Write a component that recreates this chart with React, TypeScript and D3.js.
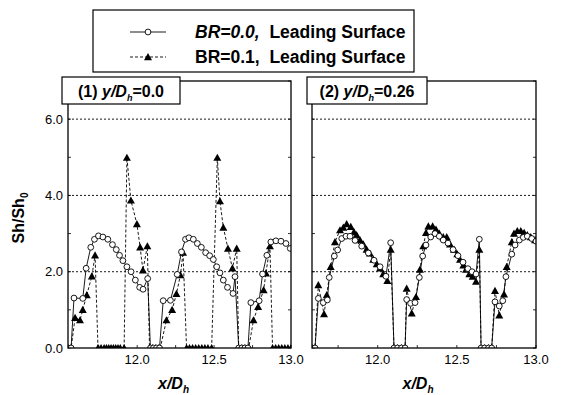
import React from "react";
import * as d3 from "d3";

// ---------- data ----------
const yTicks = [0, 2, 4, 6];
const yTickLabels = ["0.0", "2.0", "4.0", "6.0"];
const xTicks = [12.0, 12.5, 13.0];
const xTickLabels = ["12.0", "12.5", "13.0"];
const xMinorTicks = [11.75, 12.25, 12.75];

const seriesNames = ["BR=0.0,", "BR=0.1,"];
const legendSuffix = "Leading Surface";
const panelTitles = [
  { num: "(1) ", val: "=0.0" },
  { num: "(2) ", val: "=0.26" },
];

// Panel 1 (y/Dh = 0.0)
const p1BR00: [number, number][] = [
  [11.55, 0], [11.57, 0], [11.589, 1.31], [11.646, 1.3], [11.668, 2.09], [11.698, 2.64],
  [11.722, 2.85], [11.748, 2.94], [11.777, 2.91], [11.809, 2.85], [11.839, 2.71], [11.864, 2.58],
  [11.885, 2.43], [11.907, 2.29], [11.933, 2.13], [11.96, 2.0], [11.988, 1.78], [12.016, 1.59],
  [12.038, 1.54], [12.068, 1.82], [12.086, 0], [12.105, 0], [12.125, 0], [12.145, 0],
  [12.169, 1.24], [12.216, 1.25], [12.26, 1.93], [12.288, 2.52], [12.314, 2.85], [12.336, 2.89],
  [12.365, 2.85], [12.391, 2.74], [12.417, 2.64], [12.445, 2.5], [12.471, 2.42], [12.495, 2.32],
  [12.517, 2.13], [12.538, 1.97], [12.56, 1.78], [12.587, 1.59], [12.623, 1.43], [12.636, 1.87],
  [12.66, 0], [12.68, 0], [12.7, 0], [12.72, 0], [12.739, 1.19], [12.793, 1.24], [12.815, 1.94],
  [12.843, 2.43], [12.869, 2.78], [12.902, 2.81], [12.935, 2.8], [12.967, 2.74], [12.995, 2.61],
];
const p1BR01: [number, number][] = [
  [11.55, 0], [11.57, 0], [11.596, 0.79], [11.628, 0.73], [11.646, 1.0], [11.672, 1.39],
  [11.705, 1.88], [11.726, 2.43], [11.745, 0], [11.765, 0], [11.785, 0], [11.8, 0], [11.815, 0],
  [11.83, 0], [11.845, 0], [11.86, 0], [11.875, 0], [11.89, 0], [11.915, 0], [11.933, 4.99],
  [11.959, 3.87], [11.998, 3.25], [12.019, 2.64], [12.037, 2.04], [12.066, 2.67], [12.08, 0],
  [12.1, 0], [12.12, 0], [12.14, 0], [12.15, 0], [12.19, 0.73], [12.227, 1.0], [12.255, 1.42],
  [12.281, 1.91], [12.298, 2.5], [12.321, 0], [12.34, 0], [12.36, 0], [12.38, 0], [12.4, 0],
  [12.42, 0], [12.44, 0], [12.46, 0], [12.484, 0], [12.521, 4.99], [12.538, 3.85], [12.56, 3.16],
  [12.59, 2.61], [12.619, 2.09], [12.647, 2.61], [12.66, 0], [12.68, 0], [12.7, 0], [12.725, 0],
  [12.756, 0.73], [12.786, 1.08], [12.822, 1.52], [12.837, 1.96], [12.863, 2.67], [12.88, 0],
  [12.9, 0], [12.92, 0], [12.94, 0], [12.96, 0], [12.98, 0], [13.0, 0],
];

// Panel 2 (y/Dh = 0.26)
const p2BR00: [number, number][] = [
  [11.585, 0], [11.604, 0], [11.625, 1.3], [11.656, 1.19], [11.682, 1.26], [11.694, 1.85],
  [11.726, 2.41], [11.747, 2.57], [11.773, 2.87], [11.8, 2.93], [11.825, 2.93], [11.857, 2.82],
  [11.899, 2.67], [11.941, 2.49], [11.977, 2.3], [12.015, 2.13], [12.052, 1.88], [12.082, 2.76],
  [12.103, 0], [12.125, 0], [12.15, 0], [12.173, 0], [12.183, 1.27], [12.208, 1.17], [12.236, 1.19],
  [12.263, 1.85], [12.284, 2.41], [12.305, 2.7], [12.335, 2.91], [12.362, 3.0], [12.389, 2.93],
  [12.414, 2.83], [12.444, 2.75], [12.476, 2.58], [12.507, 2.42], [12.539, 2.25], [12.57, 2.08],
  [12.596, 2.0], [12.621, 1.94], [12.642, 2.85], [12.653, 0], [12.675, 0], [12.7, 0], [12.72, 0],
  [12.741, 1.21], [12.768, 1.1], [12.79, 1.24], [12.81, 1.87], [12.847, 2.46], [12.868, 2.7],
  [12.895, 2.83], [12.92, 2.9], [12.945, 2.93], [12.973, 2.87], [13.0, 2.8],
];
const p2BR01: [number, number][] = [
  [11.585, 0], [11.604, 0], [11.625, 1.65], [11.661, 0.89], [11.678, 1.39], [11.703, 2.13],
  [11.73, 2.78], [11.762, 3.09], [11.783, 3.16], [11.804, 3.25], [11.83, 3.18], [11.85, 3.04],
  [11.867, 2.96], [11.888, 2.83], [11.909, 2.72], [11.93, 2.58], [11.951, 2.48], [11.972, 2.32],
  [11.994, 2.2], [12.015, 2.09], [12.035, 1.94], [12.061, 1.76], [12.082, 2.58], [12.103, 0],
  [12.125, 0], [12.15, 0], [12.173, 0], [12.183, 1.56], [12.215, 0.91], [12.242, 1.34],
  [12.267, 2.06], [12.288, 2.67], [12.305, 3.02], [12.32, 3.19], [12.347, 3.19], [12.368, 3.11],
  [12.389, 3.0], [12.414, 2.91], [12.436, 2.91], [12.457, 2.72], [12.482, 2.58], [12.503, 2.46],
  [12.52, 2.32], [12.541, 2.17], [12.558, 2.06], [12.579, 1.94], [12.6, 1.87], [12.621, 1.74],
  [12.642, 2.58], [12.653, 0], [12.675, 0], [12.7, 0], [12.72, 0], [12.741, 1.5], [12.768, 0.86],
  [12.798, 1.41], [12.815, 2.13], [12.847, 2.78], [12.861, 3.0], [12.882, 3.07], [12.904, 3.07],
  [12.925, 3.02], [12.945, 2.96], [12.967, 2.91], [12.994, 2.83],
];

// ---------- layout ----------
const W = 561;
const H = 395;
const FONT = "'Liberation Sans', Arial, Helvetica, sans-serif";
const yDomain: [number, number] = [0, 7];
const plotTop = 81;
const plotBottom = 348;

const panels = [
  { x0: 68, x1: 291, domain: [11.55, 13.0] as [number, number], a: p1BR00, b: p1BR01, box: [62, 180], title: panelTitles[0], showYLabels: true },
  { x0: 312, x1: 536, domain: [11.585, 13.0] as [number, number], a: p2BR00, b: p2BR01, box: [307, 427], title: panelTitles[1], showYLabels: false },
];

const Triangle = ({ x, y, s = 4 }: { x: number; y: number; s?: number }) => (
  <path d={`M${x},${y - s}L${x + s},${y + s * 0.8}L${x - s},${y + s * 0.8}Z`} fill="#000" />
);

function Panel({ p, clipId }: { p: (typeof panels)[number]; clipId: string }) {
  const x = d3.scaleLinear().domain(p.domain).range([p.x0, p.x1]);
  const y = d3.scaleLinear().domain(yDomain).range([plotBottom, plotTop]);
  const line = d3
    .line<[number, number]>()
    .x((d) => x(d[0]))
    .y((d) => y(d[1]));
  const intTicks = d3.range(0, 8);
  const cx = (p.box[0] + p.box[1]) / 2;
  return (
    <g>
      <defs>
        <clipPath id={clipId}>
          <rect x={p.x0} y={plotTop - 6} width={p.x1 - p.x0} height={plotBottom - plotTop + 6} />
        </clipPath>
      </defs>
      {yTicks.filter((t) => t > 0).map((t) => (
        <line key={t} x1={p.x0} x2={p.x1} y1={y(t)} y2={y(t)} stroke="#000" strokeWidth={0.9} strokeDasharray="2,2" />
      ))}
      {intTicks.map((t) => (
        <g key={"yt" + t}>
          <line x1={p.x0} x2={p.x0 + 3} y1={y(t)} y2={y(t)} stroke="#000" strokeWidth={0.8} />
          <line x1={p.x1} x2={p.x1 - 3} y1={y(t)} y2={y(t)} stroke="#000" strokeWidth={0.8} />
        </g>
      ))}
      {[...xTicks, ...xMinorTicks].map((t) => (
        <line key={"xt" + t} x1={x(t)} x2={x(t)} y1={plotBottom} y2={plotBottom - 3} stroke="#000" strokeWidth={0.8} />
      ))}
      <g clipPath={`url(#${clipId})`}>
        <path d={line(p.b) || ""} fill="none" stroke="#000" strokeWidth={0.9} strokeDasharray="3,2" />
        <path d={line(p.a) || ""} fill="none" stroke="#000" strokeWidth={0.9} />
        {p.b.map((d, i) => (
          <Triangle key={"t" + i} x={x(d[0])} y={y(d[1])} />
        ))}
        {p.a.map((d, i) => (
          <circle key={"c" + i} cx={x(d[0])} cy={y(d[1])} r={2.9} fill="#fff" stroke="#000" strokeWidth={0.9} />
        ))}
      </g>
      <rect x={p.x0} y={plotTop} width={p.x1 - p.x0} height={plotBottom - plotTop} fill="none" stroke="#000" strokeWidth={1.3} />
      {p.showYLabels &&
        yTicks.map((t, i) => (
          <text key={"yl" + t} x={p.x0 - 5} y={y(t) + 4.5} textAnchor="end" fontSize={13} fontFamily={FONT}>
            {yTickLabels[i]}
          </text>
        ))}
      {xTicks.map((t, i) => (
        <text key={"xl" + t} x={x(t)} y={364} textAnchor="middle" fontSize={13} fontFamily={FONT}>
          {xTickLabels[i]}
        </text>
      ))}
      <text x={(p.x0 + p.x1) / 2 - 6} y={389} textAnchor="middle" fontSize={16} fontWeight="bold" fontStyle="italic" fontFamily={FONT}>
        x/D
        <tspan fontSize={10} dy={4}>h</tspan>
      </text>
      <rect x={p.box[0]} y={77} width={p.box[1] - p.box[0]} height={27} fill="#fff" stroke="#000" strokeWidth={1.2} />
      <text x={cx} y={97} textAnchor="middle" fontSize={16} fontWeight="bold" fontFamily={FONT}>
        {p.title.num}
        <tspan fontStyle="italic">y/D</tspan>
        <tspan fontStyle="italic" fontSize={9} dy={4}>h</tspan>
        <tspan dy={-4}>{p.title.val}</tspan>
      </text>
    </g>
  );
}

export default function App() {
  return (
    <svg width={W} height={H} style={{ display: "block", position: "absolute", left: 0, top: 0, background: "#fff" }}>
      <rect x={0} y={0} width={W} height={H} fill="#fff" />
      <rect x={93} y={10} width={321} height={62} fill="#fff" stroke="#000" strokeWidth={1.2} />
      <line x1={130} x2={166} y1={32} y2={32} stroke="#000" strokeWidth={0.9} />
      <circle cx={148} cy={32} r={2.9} fill="#fff" stroke="#000" strokeWidth={0.9} />
      <line x1={130} x2={166} y1={57} y2={57} stroke="#000" strokeWidth={0.9} strokeDasharray="3,2" />
      <Triangle x={148} y={57} />
      <text x={195} y={38} fontSize={17.5} fontWeight="bold" fontFamily={FONT}>
        <tspan fontStyle="italic">{seriesNames[0]}</tspan>{"\u00A0\u00A0"}{legendSuffix}
      </text>
      <text x={195} y={63} fontSize={17.5} fontWeight="bold" fontFamily={FONT}>
        {seriesNames[1]}{"\u00A0\u00A0"}{legendSuffix}
      </text>
      {panels.map((p, i) => (
        <Panel key={i} p={p} clipId={"clip" + i} />
      ))}
      <text transform="translate(24,218) rotate(-90)" textAnchor="middle" fontSize={16} fontWeight="bold" fontFamily={FONT}>
        Sh/Sh
        <tspan fontSize={10} dy={4}>0</tspan>
      </text>
    </svg>
  );
}
